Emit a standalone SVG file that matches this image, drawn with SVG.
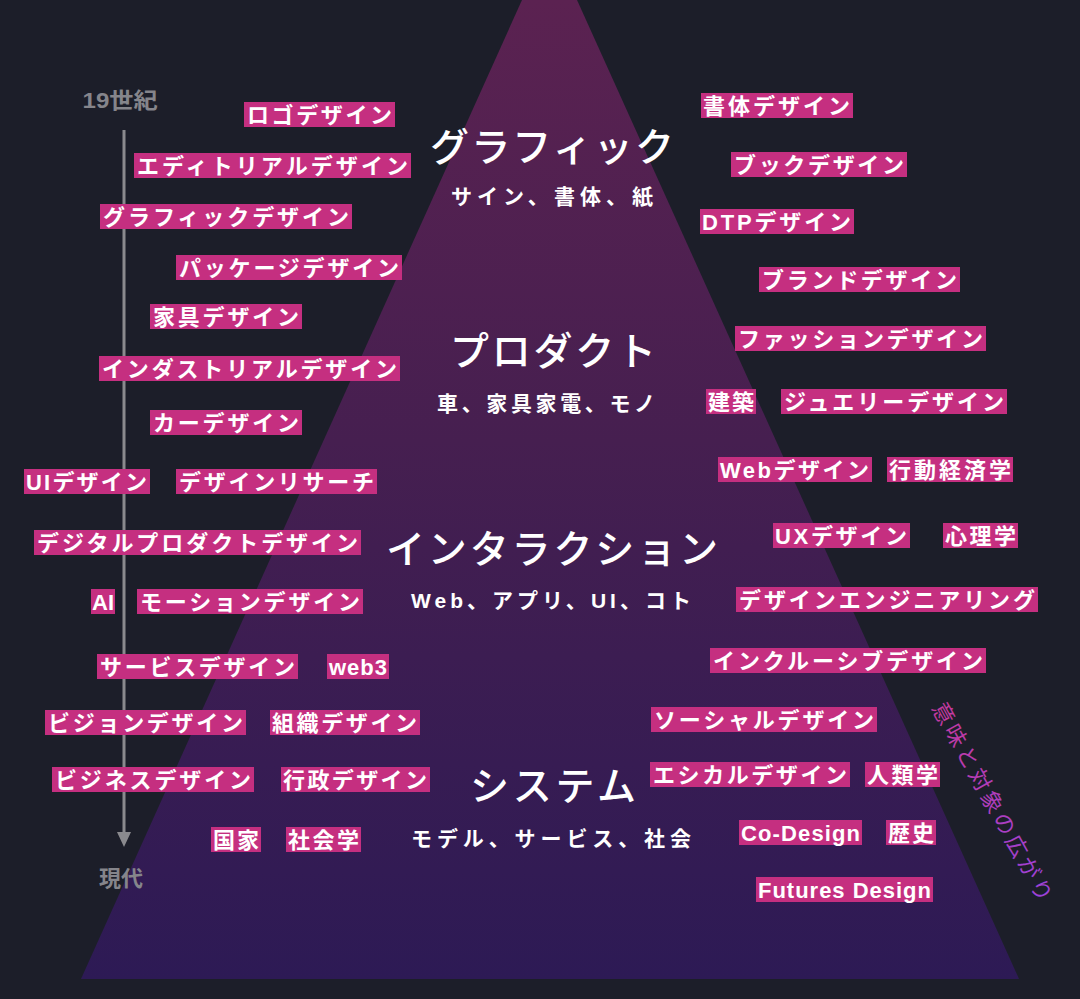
<svg xmlns="http://www.w3.org/2000/svg" width="1080" height="999" viewBox="0 0 1080 999">
<defs>
<style>
text{font-family:"Liberation Sans","Noto Sans CJK JP",sans-serif;}
.tag rect{fill:#c52f80;}
.tag text{fill:#ffffff;font-size:22px;font-weight:bold;dominant-baseline:central;}
.title{fill:#ffffff;font-size:39px;font-weight:500;dominant-baseline:central;}
.sub{fill:#ffffff;font-size:21px;font-weight:bold;dominant-baseline:central;}
.time{fill:#85858b;font-size:22px;font-weight:bold;dominant-baseline:central;text-anchor:middle;}
</style>
<linearGradient id="pyr" x1="0" y1="0" x2="0" y2="979" gradientUnits="userSpaceOnUse">
<stop offset="0" stop-color="#5b2251"/>
<stop offset="0.45" stop-color="#461f50"/>
<stop offset="1" stop-color="#2d1a55"/>
</linearGradient>
<linearGradient id="rot" x1="-115" y1="0" x2="115" y2="0" gradientUnits="userSpaceOnUse">
<stop offset="0" stop-color="#c4399c"/>
<stop offset="1" stop-color="#9a42dc"/>
</linearGradient>
</defs>
<rect width="1080" height="999" fill="#1c1e29"/>
<g id="pyramid"><polygon points="522,0 577,0 1019,979 81,979" fill="url(#pyr)"/></g>

<g id="connectors">
<line x1="124" y1="130" x2="124" y2="834" stroke="#8a8a8e" stroke-width="3"/>
<polygon points="117,832 131,832 124,847" fill="#8a8a8e"/>
</g>
<g id="time-start"><text class="time" x="120" y="100" textLength="75" lengthAdjust="spacingAndGlyphs">19世紀</text></g>
<g id="time-end"><text class="time" x="121" y="878">現代</text></g>

<g id="layer-graphic">
<text class="title" x="430" y="147" textLength="244" lengthAdjust="spacing">グラフィック</text>
<text class="sub" x="451" y="196" textLength="202" lengthAdjust="spacing">サイン、書体、紙</text>
</g>
<g id="layer-product">
<text class="title" x="450" y="351" textLength="206" lengthAdjust="spacing">プロダクト</text>
<text class="sub" x="437" y="403" textLength="218" lengthAdjust="spacing">車、家具家電、モノ</text>
</g>
<g id="layer-interaction">
<text class="title" x="386" y="549" textLength="332" lengthAdjust="spacing">インタラクション</text>
<text class="sub" x="411" y="600" textLength="280" lengthAdjust="spacing">Web、アプリ、UI、コト</text>
</g>
<g id="layer-system">
<text class="title" x="470" y="786" textLength="166" lengthAdjust="spacing">システム</text>
<text class="sub" x="411" y="838" textLength="280" lengthAdjust="spacing">モデル、サービス、社会</text>
</g>

<g id="t01" class="tag"><rect x="244" y="102" width="151" height="25"/><text x="247" y="115" textLength="145" lengthAdjust="spacing">ロゴデザイン</text></g>
<g id="t02" class="tag"><rect x="134" y="153" width="277" height="25"/><text x="137" y="166" textLength="271" lengthAdjust="spacing">エディトリアルデザイン</text></g>
<g id="t03" class="tag"><rect x="100" y="204" width="252" height="25"/><text x="103" y="217" textLength="246" lengthAdjust="spacing">グラフィックデザイン</text></g>
<g id="t04" class="tag"><rect x="176" y="255" width="226" height="25"/><text x="179" y="268" textLength="220" lengthAdjust="spacing">パッケージデザイン</text></g>
<g id="t05" class="tag"><rect x="150" y="304" width="152" height="25"/><text x="153" y="317" textLength="146" lengthAdjust="spacing">家具デザイン</text></g>
<g id="t06" class="tag"><rect x="99" y="356" width="301" height="25"/><text x="102" y="369" textLength="295" lengthAdjust="spacing">インダストリアルデザイン</text></g>
<g id="t07" class="tag"><rect x="150" y="410" width="152" height="25"/><text x="153" y="423" textLength="146" lengthAdjust="spacing">カーデザイン</text></g>
<g id="t08" class="tag"><rect x="24" y="469" width="126" height="25"/><text x="26" y="482" textLength="121" lengthAdjust="spacing">UIデザイン</text></g>
<g id="t09" class="tag"><rect x="176" y="469" width="201" height="25"/><text x="179" y="482" textLength="195" lengthAdjust="spacing">デザインリサーチ</text></g>
<g id="t10" class="tag"><rect x="34" y="530" width="327" height="25"/><text x="37" y="543" textLength="321" lengthAdjust="spacing">デジタルプロダクトデザイン</text></g>
<g id="t11" class="tag"><rect x="91" y="589" width="24" height="25"/><text x="92" y="602" textLength="22" lengthAdjust="spacingAndGlyphs">AI</text></g>
<g id="t12" class="tag"><rect x="137" y="589" width="226" height="25"/><text x="140" y="602" textLength="220" lengthAdjust="spacing">モーションデザイン</text></g>
<g id="t13" class="tag"><rect x="97" y="654" width="201" height="25"/><text x="100" y="667" textLength="195" lengthAdjust="spacing">サービスデザイン</text></g>
<g id="t14" class="tag"><rect x="327" y="654" width="62" height="25"/><text x="329" y="667" textLength="58" lengthAdjust="spacing">web3</text></g>
<g id="t15" class="tag"><rect x="45" y="710" width="201" height="25"/><text x="48" y="723" textLength="195" lengthAdjust="spacing">ビジョンデザイン</text></g>
<g id="t16" class="tag"><rect x="270" y="710" width="150" height="25"/><text x="272" y="723" textLength="145" lengthAdjust="spacing">組織デザイン</text></g>
<g id="t17" class="tag"><rect x="52" y="767" width="202" height="25"/><text x="55" y="780" textLength="196" lengthAdjust="spacing">ビジネスデザイン</text></g>
<g id="t18" class="tag"><rect x="281" y="767" width="149" height="25"/><text x="283" y="780" textLength="144" lengthAdjust="spacing">行政デザイン</text></g>
<g id="t19" class="tag"><rect x="211" y="827" width="50" height="25"/><text x="213" y="840" textLength="46" lengthAdjust="spacing">国家</text></g>
<g id="t20" class="tag"><rect x="286" y="827" width="75" height="25"/><text x="288" y="840" textLength="71" lengthAdjust="spacing">社会学</text></g>

<g id="t21" class="tag"><rect x="701" y="93" width="152" height="25"/><text x="703" y="106" textLength="147" lengthAdjust="spacing">書体デザイン</text></g>
<g id="t22" class="tag"><rect x="731" y="152" width="176" height="25"/><text x="734" y="165" textLength="170" lengthAdjust="spacing">ブックデザイン</text></g>
<g id="t23" class="tag"><rect x="700" y="209" width="154" height="25"/><text x="702" y="222" textLength="149" lengthAdjust="spacing">DTPデザイン</text></g>
<g id="t24" class="tag"><rect x="759" y="267" width="201" height="25"/><text x="762" y="280" textLength="195" lengthAdjust="spacing">ブランドデザイン</text></g>
<g id="t25" class="tag"><rect x="735" y="326" width="251" height="25"/><text x="738" y="339" textLength="245" lengthAdjust="spacing">ファッションデザイン</text></g>
<g id="t26" class="tag"><rect x="706" y="389" width="50" height="25"/><text x="708" y="402" textLength="46" lengthAdjust="spacing">建築</text></g>
<g id="t27" class="tag"><rect x="781" y="389" width="226" height="25"/><text x="784" y="402" textLength="220" lengthAdjust="spacing">ジュエリーデザイン</text></g>
<g id="t28" class="tag"><rect x="718" y="457" width="154" height="25"/><text x="720" y="470" textLength="149" lengthAdjust="spacing">Webデザイン</text></g>
<g id="t29" class="tag"><rect x="887" y="457" width="126" height="25"/><text x="889" y="470" textLength="122" lengthAdjust="spacing">行動経済学</text></g>
<g id="t30" class="tag"><rect x="773" y="523" width="137" height="25"/><text x="775" y="536" textLength="132" lengthAdjust="spacing">UXデザイン</text></g>
<g id="t31" class="tag"><rect x="943" y="523" width="75" height="25"/><text x="945" y="536" textLength="71" lengthAdjust="spacing">心理学</text></g>
<g id="t32" class="tag"><rect x="736" y="587" width="302" height="25"/><text x="739" y="600" textLength="296" lengthAdjust="spacing">デザインエンジニアリング</text></g>
<g id="t33" class="tag"><rect x="710" y="648" width="276" height="25"/><text x="713" y="661" textLength="270" lengthAdjust="spacing">インクルーシブデザイン</text></g>
<g id="t34" class="tag"><rect x="651" y="707" width="226" height="25"/><text x="654" y="720" textLength="220" lengthAdjust="spacing">ソーシャルデザイン</text></g>
<g id="t35" class="tag"><rect x="650" y="762" width="200" height="25"/><text x="653" y="775" textLength="194" lengthAdjust="spacing">エシカルデザイン</text></g>
<g id="t36" class="tag"><rect x="865" y="762" width="75" height="25"/><text x="867" y="775" textLength="71" lengthAdjust="spacing">人類学</text></g>
<g id="t37" class="tag"><rect x="739" y="820" width="123" height="25"/><text x="741" y="833" textLength="119" lengthAdjust="spacing">Co-Design</text></g>
<g id="t38" class="tag"><rect x="886" y="820" width="50" height="25"/><text x="888" y="833" textLength="46" lengthAdjust="spacing">歴史</text></g>
<g id="t39" class="tag"><rect x="756" y="877" width="177" height="25"/><text x="758" y="890" textLength="173" lengthAdjust="spacing">Futures Design</text></g>

<g id="expansion" transform="translate(992,802) rotate(61)">
<text x="0" y="0" text-anchor="middle" dominant-baseline="central" font-size="22" fill="url(#rot)" textLength="224" lengthAdjust="spacing">意味と対象の広がり</text>
</g>
</svg>
